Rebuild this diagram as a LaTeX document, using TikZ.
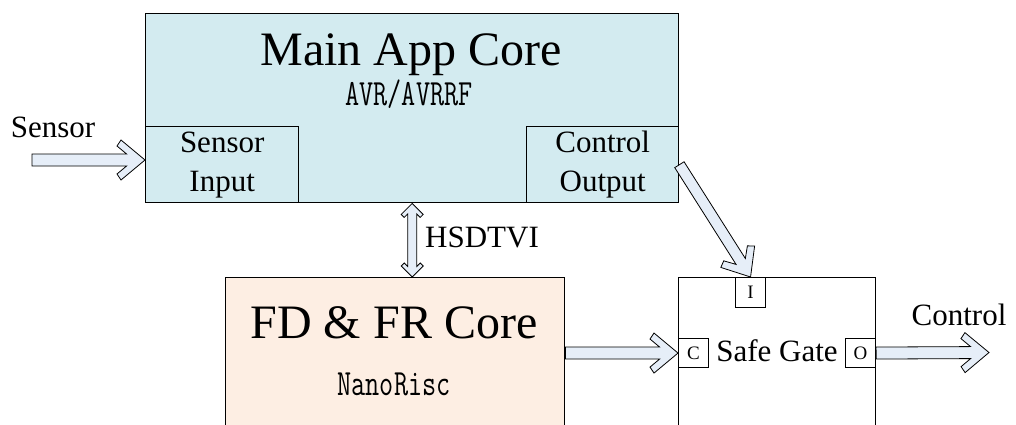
\documentclass[tikz,border=0pt]{standalone}
\usepackage{fontspec}
\setmainfont{Liberation Serif}
\usetikzlibrary{calc}
\definecolor{maincol}{HTML}{D3EBF0}
\definecolor{fdcol}{HTML}{FDEEE3}
\definecolor{arrcol}{HTML}{E6EEF8}
\newcommand\monotxt[1]{\scalebox{0.74}[1]{\fontsize{37}{40}\ttfamily\selectfont #1}}
\tikzset{
  fw/.store in=\fw, fib/.store in=\fib, fcb/.store in=\fcb,
  fcl/.store in=\fcl, fh/.store in=\fh, fhh/.store in=\fhh,
  fw=6pt, fib=18.4pt, fcb=28pt, fcl=14pt, fh=24pt, fhh=20pt,
  fatbase/.style={draw=black, line width=0.8pt, fill=arrcol, line join=miter},
  fat/.style={fatbase, to path={
    ($(\tikztostart)!\fw!90:(\tikztotarget)$)
    -- ($(\tikztotarget)!\fib!(\tikztostart)!\fw!-90:(\tikztostart)$)
    -- ($(\tikztotarget)!\fcb!(\tikztostart)!\fcl!-90:(\tikztostart)$)
    -- ($(\tikztotarget)!\fh!(\tikztostart)!\fhh!-90:(\tikztostart)$)
    -- (\tikztotarget)
    -- ($(\tikztotarget)!\fh!(\tikztostart)!\fhh!90:(\tikztostart)$)
    -- ($(\tikztotarget)!\fcb!(\tikztostart)!\fcl!90:(\tikztostart)$)
    -- ($(\tikztotarget)!\fib!(\tikztostart)!\fw!90:(\tikztostart)$)
    -- ($(\tikztostart)!\fw!-90:(\tikztotarget)$)
    -- cycle}},
  fatboth/.style={fatbase, to path={
    (\tikztostart)
    -- ($(\tikztostart)!\fh!(\tikztotarget)!\fhh!90:(\tikztotarget)$)
    -- ($(\tikztostart)!\fcb!(\tikztotarget)!\fcl!90:(\tikztotarget)$)
    -- ($(\tikztostart)!\fib!(\tikztotarget)!\fw!90:(\tikztotarget)$)
    -- ($(\tikztotarget)!\fib!(\tikztostart)!\fw!-90:(\tikztostart)$)
    -- ($(\tikztotarget)!\fcb!(\tikztostart)!\fcl!-90:(\tikztostart)$)
    -- ($(\tikztotarget)!\fh!(\tikztostart)!\fhh!-90:(\tikztostart)$)
    -- (\tikztotarget)
    -- ($(\tikztotarget)!\fh!(\tikztostart)!\fhh!90:(\tikztostart)$)
    -- ($(\tikztotarget)!\fcb!(\tikztostart)!\fcl!90:(\tikztostart)$)
    -- ($(\tikztotarget)!\fib!(\tikztostart)!\fw!90:(\tikztostart)$)
    -- ($(\tikztostart)!\fib!(\tikztotarget)!\fw!-90:(\tikztotarget)$)
    -- ($(\tikztostart)!\fcb!(\tikztotarget)!\fcl!-90:(\tikztotarget)$)
    -- ($(\tikztostart)!\fh!(\tikztotarget)!\fhh!-90:(\tikztotarget)$)
    -- cycle}},
  box/.style={draw=black, line width=1.4pt, rectangle, inner sep=0pt, anchor=north west},
  pbox/.style={draw=black, line width=1.1pt, rectangle, inner sep=0pt, anchor=north west,
    fill=white, minimum width=30pt, minimum height=29pt, font=\fontsize{19}{22}\selectfont},
  txt/.style={inner sep=0pt, anchor=base},
  big/.style={font=\fontsize{48}{52}\selectfont},
  mid/.style={font=\fontsize{31}{39}\selectfont},
}
\begin{document}
\begin{tikzpicture}[x=1pt,y=-1pt]
\useasboundingbox (0,0) rectangle (1016,425);
\clip (0,0) rectangle (1016,425);
% main core
\node[box, fill=maincol, minimum width=533pt, minimum height=189pt] (main) at (145,13) {};
\node[box, fill=maincol, minimum width=153pt, minimum height=76pt, mid, align=center] (sensin) at (145,126) {Sensor\\Input};
\node[box, fill=maincol, minimum width=152pt, minimum height=76pt, mid, align=center] (ctrlout) at (526,126) {Control\\Output};
\node[txt, big] (maintitle) at (411,66) {Main App Core};
\node[txt] (mainsub) at (409,106) {\monotxt{AVR/AVRRF}};
% FD core
\node[box, fill=fdcol, minimum width=339pt, minimum height=170pt] (fd) at (225,277) {};
\node[txt, big] (fdtitle) at (394,338) {FD \& FR Core};
\node[txt] (fdsub) at (394,395) {\monotxt{NanoRisc}};
% safe gate
\node[box, fill=white, minimum width=197pt, minimum height=170pt] (gate) at (678,277) {};
\node[pbox, minimum height=30pt] (ibox) at (735,277) {I};
\node[pbox] (cbox) at (678,338) {C};
\node[pbox] (obox) at (845,338) {O};
\node[txt, mid] (gatelbl) at (777,361) {Safe Gate};
% labels
\node[txt, mid] (sensorlbl) at (53,137) {Sensor};
\node[txt, mid] (ctrllbl) at (959,325) {Control};
\node[txt, mid, anchor=base west] (hsd) at (425,247) {HSDTVI};
% coordinates
\coordinate (stail) at (32,160);
\coordinate (shead) at (stail -| sensin.west);
\coordinate (fdout) at (fd.east |- cbox.west);
\coordinate (otip) at (989,352.5);
\coordinate (hsdbot) at (main.south |- fd.north);
% arrows
\draw[fat] (stail) to (shead);
\draw[fat] (fdout) to (cbox.west);
\draw[fat] (obox.east) to (otip);
\draw[fat, fw=5.5pt] (ctrlout.east) to (ibox.north);
\draw[fatboth, fw=4.5pt, fh=11pt, fhh=11pt, fcb=14pt, fcl=8pt, fib=10.5pt] (main.south) to (hsdbot);
\end{tikzpicture}
\end{document}
